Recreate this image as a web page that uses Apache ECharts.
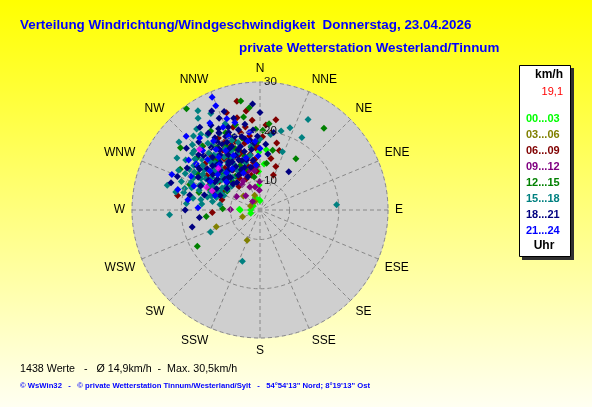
<!DOCTYPE html>
<html><head><meta charset="utf-8">
<script src="https://cdn.jsdelivr.net/npm/echarts@6/dist/echarts.min.js"></script>
<style>html,body{margin:0;padding:0;background:#fff;}#c{width:592px;height:407px;}</style>
</head><body><div id="c"></div>
<script>
const directions = ['N','NNE','NE','ENE','E','ESE','SE','SSE','S','SSW','SW','WSW','W','WNW','NW','NNW'];
const hourRanges = ['00...03','03...06','06...09','09...12','12...15','15...18','18...21','21...24'];
const radiusTicks = [10, 20, 30];
const currentSpeed = '19,1';
const statsLine = '1438 Werte   -   \u00D8 14,9km/h  -  Max. 30,5km/h';
const footerLine = '\u00A9 WsWin32   -   \u00A9 private Wetterstation Tinnum/Westerland/Sylt   -   54\u00B054\'13" Nord; 8\u00B019\'13" Ost';

// [speed km/h, direction deg]
const h00_03 = [[15.8,359],[16.3,6],[5.9,0],[5.9,270],[6,250],[8,270],[8.2,272],[6.1,356],[9.1,358],[6.7,340],[5.6,300],[13.4,5],[11.8,358]];
const h03_06 = [[10.7,203],[13.5,249],[7.8,249],[6.1,293],[6,329],[7.2,340],[8.4,310]];
const h06_09 = [[24.9,341],[21,280],[13.7,267],[26.6,348],[24.3,352],[23.3,346],[22.3,355],[21.7,342],[21.1,350],[20.6,337],[20.1,346],[19.6,332],[19.2,352],[18.8,340],[18.3,328],[17.9,347],[17.5,335],[17.1,357],[16.7,325],[16.3,342],[15.9,332],[15.5,350],[15.1,320],[14.7,338],[14.3,354],[13.8,326],[13.4,344],[13,334],[12.6,350],[12.1,340],[11.7,327],[11.3,346],[10.9,336],[10.4,318],[19.8,8],[18,14],[16.7,18],[14.7,12],[13.4,20],[11.6,21],[18.6,310],[16.9,303],[15.5,296],[14.1,305],[12.4,298],[21.4,318],[22.7,326],[19.3,318],[12,285],[14.2,290],[17.2,330],[18.4,336],[19.7,340],[20.9,330],[15.9,338],[14.9,346],[13.8,352],[16.6,356],[18.9,2],[21.3,4],[22.6,10],[12.8,312],[15.2,312],[17.9,318],[11.9,355]];
const h09_12 = [[9.8,359],[8,358],[8.1,315],[6.3,319],[10,271],[11.3,340],[10.8,330],[12.4,345],[12,352],[9.1,336],[10.3,325],[12.9,356],[9.5,300],[8.8,348]];
const h12_15 = [[29.4,324],[26.5,350],[24.9,354],[25.1,38],[16.7,35],[18.7,240],[15,263],[11.6,272],[24.5,308],[22.2,297],[23.2,350],[22,344],[21.2,336],[20.4,357],[19.7,326],[19,346],[18.2,317],[17.5,338],[16.8,352],[16.1,330],[15.4,344],[14.7,314],[13.9,336],[13.2,356],[12.5,324],[11.7,300],[18.5,300],[16.9,286],[15.4,293],[20.2,2],[17.8,358],[21.6,6],[16.4,12],[13.6,8],[10.8,350],[19.2,290],[20.6,310],[14.2,320],[12.8,340],[17.2,320],[18.6,332],[19.8,340],[15.6,326],[14.4,304],[16.2,308],[21.5,318],[22.9,328],[13.2,290],[12.2,316]];
const h15_18 = [[30.5,336],[27.8,328],[26,333],[24.8,28],[21.8,20],[21,30],[16.7,21],[19.6,86],[22.4,267],[15,246],[15,199],[23.5,285],[19,275],[24.2,318],[23.5,322],[22.6,325],[22,312],[21.4,316],[20.8,308],[20.2,304],[19.7,311],[19.4,300],[19,296],[18.6,320],[18.1,314],[17.9,306],[17.6,298],[17.3,292],[17,288],[16.7,300],[16.4,309],[16.1,318],[15.7,326],[15.4,296],[15,284],[14.7,290],[14.4,304],[14.1,312],[13.8,280],[13.5,294],[13.2,286],[12.9,300],[12.6,320],[12.2,278],[11.9,292],[20.4,324],[21.6,332],[22.9,338],[19.2,338],[18.4,342],[17.4,334],[16.3,338],[22.4,296],[21,290],[19.9,283],[18.6,288],[23.9,302],[17.8,280],[15.9,276],[17.1,352],[18.4,0],[19.5,8],[20.6,15],[15.3,350],[14,343],[11.5,310],[13.3,330],[13,315],[14.2,322],[15.6,310],[12.4,305],[14.8,300],[16.5,312],[17.2,316],[18,322],[18.8,308],[19.6,318],[20.5,300],[21.2,322],[15.8,304],[15.2,316],[14.6,296],[13.9,308],[16.9,294],[17.7,302],[19.1,292],[20.9,296],[22.2,304],[18.3,330],[17,326],[16,332],[14.9,330],[13.7,318],[12.8,294],[11.8,302],[21.9,310],[23.1,314],[24.9,322],[26.5,326],[25.5,310],[19.9,286],[21.5,282],[16.2,280],[14.3,286]];
const h18_21 = [[23.8,0],[13.7,37],[18.2,256],[16.4,263],[22.9,287],[19.2,270],[25.3,340],[24.4,336],[23.4,344],[22.5,333],[22,339],[21.3,328],[20.9,345],[20.5,335],[20.1,322],[19.8,341],[19.5,330],[19,326],[18.8,348],[18.4,318],[18.1,336],[17.8,324],[17.5,343],[17.2,313],[16.9,330],[16.6,320],[16.3,345],[16,307],[15.7,327],[15.4,315],[15.1,337],[14.8,302],[14.4,322],[14.1,331],[13.8,296],[13.5,311],[13.2,340],[12.9,318],[12.6,290],[12.3,328],[12,303],[11.6,314],[21.7,350],[20.3,355],[19,358],[17.6,355],[16.4,352],[20.8,312],[19.6,305],[18.2,298],[17,292],[22.6,318],[23.5,310],[18.6,282],[15.7,285],[20,10],[15.5,8],[11.3,320],[17.4,5],[25.6,356],[13,335],[14.5,345],[15.2,325],[12.7,310],[16.2,336],[17,340],[17.9,333],[18.7,326],[19.3,334],[20.2,328],[21,338],[21.8,332],[22.8,326],[23.9,330],[15.3,330],[14.7,340],[13.9,325],[13.3,316],[12.4,333],[11.2,340],[16.7,316],[17.6,308],[18.8,304],[19.9,314],[21.1,300],[22.1,292],[16.1,300],[14.7,306],[24.8,324],[26.4,334],[19.4,346],[18.3,352],[14.2,352],[12.9,348]];
const h21_24 = [[28.9,337],[27,337],[25.2,315],[23.3,292],[24.4,330],[23.1,320],[22.5,344],[21.7,305],[20.9,326],[20.3,337],[19.6,296],[18.8,314],[18.2,350],[17.6,322],[16.9,308],[16.3,334],[15.6,300],[15,345],[14.2,318],[13.6,288],[12.9,310],[12.2,336],[19.9,352],[18,356],[16.5,0],[15,358],[13.2,355],[21.2,284],[18.8,278],[16.6,272],[17.9,330],[19.2,324],[20.8,316],[16.4,318],[15.2,310],[22.4,336],[23.7,340],[14.1,326],[20,306],[18.3,290]];
const highlight = [[21.4,315],[16,315],[15.8,293],[14.5,292]];
const calm = [[4,0]];

const hourSeries = [h00_03, h03_06, h06_09, h09_12, h12_15, h15_18, h18_21, h21_24];
const colors = ['#00ff00','#808000','#800000','#800080','#008000','#008080','#000080','#0000ff'];

const chart = echarts.init(document.getElementById('c'), null, {renderer:'canvas'});
const FONT = 'Liberation Sans, Arial, sans-serif';

const series = hourSeries.map((d, i) => ({
  name: hourRanges[i], type: 'scatter', coordinateSystem: 'polar',
  symbol: 'diamond', symbolSize: 7,
  itemStyle: { color: colors[i], opacity: 1 },
  data: d,
  animation: false, z: 3
}));
series.push({ name: 'hl', type: 'scatter', coordinateSystem: 'polar', symbol: 'diamond', symbolSize: 7,
  itemStyle: { color: '#ff00ff' }, data: highlight, animation: false, z: 3 });
series.push({ name: 'calm', type: 'scatter', coordinateSystem: 'polar', symbol: 'rect', symbolSize: 5,
  itemStyle: { color: '#999999' }, data: calm, animation: false, z: 2 });

chart.setOption({
  animation: false,
  backgroundColor: { type: 'linear', x: 0, y: 0, x2: 0, y2: 1,
    colorStops: [{ offset: 0, color: '#ffff00' }, { offset: 1, color: '#fffff2' }] },
  title: [
    { text: 'Verteilung Windrichtung/Windgeschwindigkeit  Donnerstag, 23.04.2026', left: 15, top: 14,
      textStyle: { color: '#0000ff', fontFamily: FONT, fontSize: 13.4, fontWeight: 'bold' } },
    { text: 'private Wetterstation Westerland/Tinnum', left: 234, top: 37,
      textStyle: { color: '#0000ff', fontFamily: FONT, fontSize: 13.4, fontWeight: 'bold' } }
  ],
  legend: {
    data: hourRanges.map((n, i) => ({ name: n, textStyle: { color: colors[i] } })),
    orient: 'vertical', left: 516, top: 107, itemWidth: 0, itemHeight: 14, itemGap: 2,
    icon: 'rect', selectedMode: false,
    textStyle: { fontFamily: FONT, fontSize: 11, fontWeight: 'bold' }
  },
  polar: { center: [260, 210], radius: 128 },
  angleAxis: {
    type: 'value', min: 0, max: 360, interval: 22.5, startAngle: 90, clockwise: true, z: 1,
    axisLine: { show: false }, axisTick: { show: false },
    axisLabel: { show: true, margin: 7, color: '#000', fontFamily: FONT, fontSize: 12,
      formatter: v => (v >= 360 ? '' : directions[Math.round(v / 22.5) % 16]) },
    splitLine: { show: true, lineStyle: { color: '#888888', type: [4, 3], width: 1 } },
    splitArea: { show: false }
  },
  radiusAxis: {
    type: 'value', min: 4, max: 30, interval: 2, z: 5,
    axisLine: { show: false }, axisTick: { show: false },
    axisLabel: { show: true, align: 'left', verticalAlign: 'middle', margin: -4, color: '#111', fontFamily: FONT, fontSize: 11.5,
      formatter: v => (radiusTicks.indexOf(v) >= 0 ? String(v) : '') },
    splitLine: { show: true, lineStyle: { color: ['rgba(0,0,0,0)','rgba(0,0,0,0)','rgba(0,0,0,0)','#888888','rgba(0,0,0,0)'], type: [4, 3], width: 1 } }
  },
  graphic: [
    { type: 'circle', shape: { cx: 260, cy: 210, r: 128.5 }, style: { fill: '#cfcfcf' }, z: -1 },
    { type: 'rect', shape: { x: 522, y: 68, width: 52, height: 192 }, style: { fill: '#303030' }, z: 1 },
    { type: 'rect', shape: { x: 519.5, y: 65.5, width: 51, height: 191 }, style: { fill: '#ffffff', stroke: '#000', lineWidth: 1 }, z: 2 },
    { type: 'text', x: 563, y: 75, z: 3, style: { text: 'km/h', align: 'right', verticalAlign: 'middle', fill: '#000', font: 'bold 12px ' + FONT } },
    { type: 'text', x: 563, y: 92, z: 3, style: { text: currentSpeed, align: 'right', verticalAlign: 'middle', fill: '#ff0000', font: '11px ' + FONT } },
    { type: 'text', x: 544, y: 246, z: 3, style: { text: 'Uhr', align: 'center', verticalAlign: 'middle', fill: '#000', font: 'bold 12px ' + FONT } },
    { type: 'text', x: 20, y: 369, z: 3, style: { text: statsLine, align: 'left', verticalAlign: 'middle', fill: '#000', font: '10.7px ' + FONT } },
    { type: 'text', x: 20, y: 386, z: 3, style: { text: footerLine, align: 'left', verticalAlign: 'middle', fill: '#0000ff', font: 'bold 7.7px ' + FONT } }
  ],
  series: series
});
</script></body></html>
